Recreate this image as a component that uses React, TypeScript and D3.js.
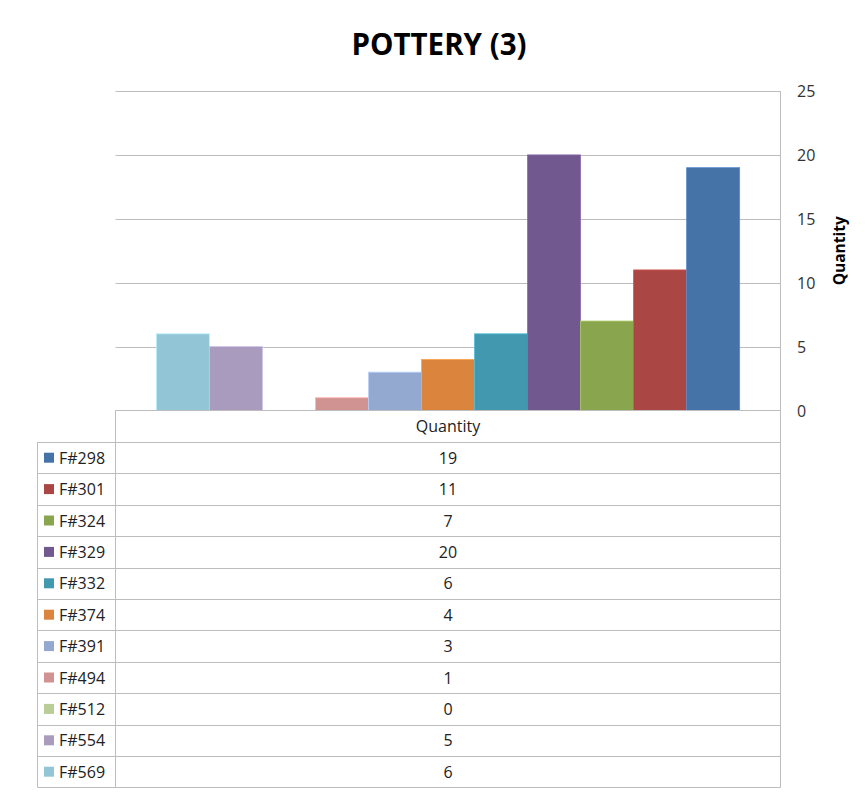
import React from "react";
import * as d3 from "d3";

const seriesNames = ["F#298", "F#301", "F#324", "F#329", "F#332", "F#374", "F#391", "F#494", "F#512", "F#554", "F#569"];
const seriesValues = [19, 11, 7, 20, 6, 4, 3, 1, 0, 5, 6];
const seriesColors = ["#4572A7", "#AA4643", "#89A54E", "#71588F", "#4198AF", "#DB843D", "#93A9CF", "#D19392", "#B9CD96", "#A99BBD", "#92C5D6"];
const categories = ["Quantity"];
const yTicks = [0, 5, 10, 15, 20, 25];
const title = "POTTERY (3)";
const yTitle = "Quantity";

const W = 867;
const H = 793;
const plotL = 115.5;
const plotR = 780.5;
const plotT = 91;
const plotB = 410.5;
const tableL = 37.5;
const headerB = 442;
const rowH = 31.4;
const font = "'Open Sans', 'Liberation Sans', Arial, sans-serif";
const gridColor = "#BDBDBD";
const fs = 16;

export default function App() {
  const y = d3.scaleLinear().domain([0, 25]).range([plotB, plotT]);
  const x0 = d3.scaleBand<string>().domain(categories).range([plotL, plotR]).paddingOuter(0.07).paddingInner(0);
  const order = seriesNames.map((_, i) => i).reverse();
  const x1 = d3
    .scaleBand<number>()
    .domain(order)
    .range([0, x0.bandwidth()])
    .padding(0);
  const tableB = headerB + rowH * seriesNames.length;

  return (
    <svg width={W} height={H} style={{ position: "absolute", left: 0, top: 0, background: "#fff" }}>
      <text x={439} y={55} textAnchor="middle" fontFamily={font} fontWeight="bold" fontSize={29.5} fill="#000">
        {title}
      </text>
      {yTicks.map((t) => (
        <g key={t}>
          {t > 0 && <line x1={plotL} x2={plotR} y1={Math.round(y(t)) + 0.5} y2={Math.round(y(t)) + 0.5} stroke={gridColor} strokeWidth={1} />}
          <text x={797} y={y(t) + 6} fontFamily={font} fontSize={fs} fill="#333">
            {t}
          </text>
        </g>
      ))}
      <text
        transform={`translate(845,${(plotT + plotB) / 2}) rotate(-90)`}
        textAnchor="middle"
        fontFamily={font}
        fontWeight="bold"
        fontSize={15.5}
        fill="#000"
      >
        {yTitle}
      </text>
      {categories.map((c) => (
        <g key={c} transform={`translate(${x0(c)},0)`}>
          {order.map((i) => (
            <rect
              key={i}
              x={x1(i)}
              y={y(seriesValues[i])}
              width={x1.bandwidth()}
              height={plotB - y(seriesValues[i])}
              fill={seriesColors[i]}
              stroke={d3.color(seriesColors[i])!.brighter(0.6).formatHex()}
              strokeWidth={0.8}
            />
          ))}
        </g>
      ))}
      {/* table */}
      <line x1={plotL} x2={plotR} y1={plotB} y2={plotB} stroke={gridColor} />
      <line x1={plotL} x2={plotL} y1={plotB} y2={tableB} stroke={gridColor} />
      <line x1={plotR} x2={plotR} y1={plotT} y2={tableB} stroke={gridColor} />
      <line x1={tableL} x2={tableL} y1={headerB} y2={tableB} stroke={gridColor} />
      {categories.map((c) => (
        <text key={c} x={(plotL + plotR) / 2} y={(plotB + headerB) / 2 + 6} textAnchor="middle" fontFamily={font} fontSize={fs} fill="#222">
          {c}
        </text>
      ))}
      {seriesNames.map((s, i) => {
        const top = headerB + rowH * i;
        return (
          <g key={s}>
            <line x1={tableL} x2={plotR} y1={Math.round(top) + 0.5} y2={Math.round(top) + 0.5} stroke={gridColor} />
            <rect x={44} y={top + rowH / 2 - 5} width={10} height={10} fill={seriesColors[i]} />
            <text x={59} y={top + rowH / 2 + 6} fontFamily={font} fontSize={fs} fill="#222">
              {s}
            </text>
            <text x={(plotL + plotR) / 2} y={top + rowH / 2 + 6} textAnchor="middle" fontFamily={font} fontSize={fs} fill="#222">
              {seriesValues[i]}
            </text>
          </g>
        );
      })}
      <line x1={tableL} x2={plotR} y1={Math.round(tableB) + 0.5} y2={Math.round(tableB) + 0.5} stroke={gridColor} />
    </svg>
  );
}
